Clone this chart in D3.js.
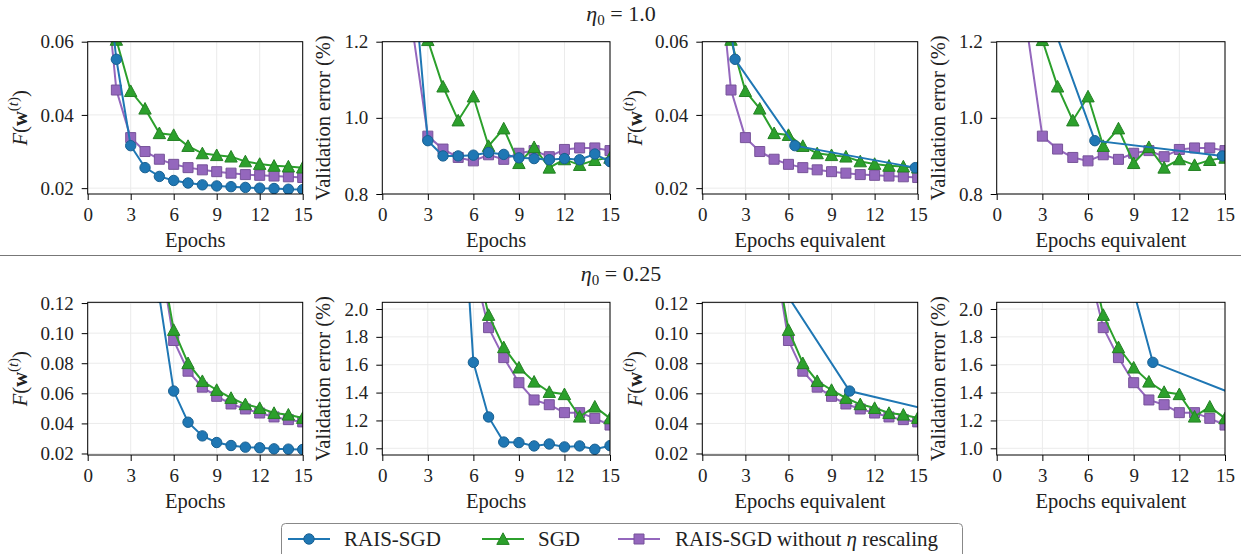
<!DOCTYPE html>
<html>
<head>
<meta charset="utf-8">
<script src="https://cdn.jsdelivr.net/npm/d3@7"></script>
<style>
  body { margin: 0; background: #fff; }
  text { font-family: "Liberation Serif", "DejaVu Serif", serif; fill: #222; }
</style>
</head>
<body>
<svg id="chart" width="1241" height="554"></svg>
<script>
// ---- data ----
// eta0 = 1.0
var epochsTop = [1, 2, 3, 4, 5, 6, 7, 8, 9, 10, 11, 12, 13, 14, 15];
var fTopRais   = [0.090, 0.0552, 0.0316, 0.0256, 0.0232, 0.0221, 0.0214, 0.0209, 0.0206, 0.0204, 0.0202, 0.0200, 0.0199, 0.0197, 0.0196];
var fTopSgd    = [0.100, 0.0605, 0.0465, 0.0417, 0.0350, 0.0345, 0.0315, 0.0295, 0.0290, 0.0286, 0.0273, 0.0266, 0.0261, 0.0259, 0.0256];
var fTopNoResc = [0.087, 0.0468, 0.0338, 0.0300, 0.0279, 0.0265, 0.0256, 0.0250, 0.0245, 0.0241, 0.0237, 0.0235, 0.0233, 0.0231, 0.0229];
var vTopRais   = [2.00, 1.40, 0.940, 0.900, 0.900, 0.902, 0.909, 0.904, 0.895, 0.893, 0.890, 0.893, 0.890, 0.905, 0.885];
var vTopSgd    = [2.00, 1.50, 1.204, 1.082, 0.993, 1.056, 0.926, 0.972, 0.881, 0.923, 0.869, 0.891, 0.876, 0.889, 0.895];
var vTopNoResc = [1.80, 1.23, 0.952, 0.918, 0.896, 0.887, 0.903, 0.891, 0.907, 0.914, 0.898, 0.917, 0.921, 0.921, 0.914];
var eqTopRais  = [1.0, 2.28, 6.45, 14.83];   // epochs equivalent of RAIS-SGD

// eta0 = 0.25
var epochsBot = [5, 6, 7, 8, 9, 10, 11, 12, 13, 14, 15];
var fBotRais   = [0.124, 0.0615, 0.0408, 0.0317, 0.0273, 0.0253, 0.0242, 0.0238, 0.0231, 0.0229, 0.0227];
var fBotSgd    = [0.156, 0.1021, 0.0800, 0.0681, 0.0622, 0.0569, 0.0527, 0.0502, 0.0469, 0.0458, 0.0436];
var fBotNoResc = [0.154, 0.0951, 0.0747, 0.0641, 0.0580, 0.0529, 0.0496, 0.0469, 0.0443, 0.0425, 0.0410];
var vBotRais   = [3.34, 1.617, 1.225, 1.045, 1.041, 1.017, 1.031, 1.010, 1.017, 0.993, 1.019];
var vBotSgd    = [3.20, 2.44, 1.957, 1.725, 1.579, 1.478, 1.404, 1.388, 1.227, 1.299, 1.215];
var vBotNoResc = [3.00, 2.31, 1.866, 1.651, 1.471, 1.347, 1.313, 1.256, 1.256, 1.215, 1.167];
var eqBotRais  = [6.0, 10.26, 19.4];

var xTicks = [0, 3, 6, 9, 12, 15];
var fTicksTop = [0.02, 0.04, 0.06];
var vTicksTop = [0.8, 1.0, 1.2];
var fTicksBot = [0.02, 0.04, 0.06, 0.08, 0.10, 0.12];
var vTicksBot = [1.0, 1.2, 1.4, 1.6, 1.8, 2.0];

var legendNames = ["RAIS-SGD", "SGD", "RAIS-SGD without \u03b7 rescaling"];

// ---- styling ----
var blue = "#1f77b4", green = "#2ca02c", purple = "#9467bd";
var fsTick = 19, fsLab = 20.5;

var svg = d3.select("#chart");

var cols = [[87.7, 302.7], [382.3, 610], [702.3, 917.7], [996.7, 1225]];
var rows = [[41.7, 194], [302.3, 455]];
var ylabX = [20, 323, 635, 938];

function zip(xs, ys) {
  var n = Math.min(xs.length, ys.length), out = [];
  for (var i = 0; i < n; i++) out.push([xs[i], ys[i]]);
  return out;
}

var panels = [
  {r: 0, c: 0, kind: "F", dom: [0.0184, 0.06], ticks: fTicksTop, xlab: "Epochs",
   s: [[epochsTop, fTopNoResc, purple, "sq"], [epochsTop, fTopSgd, green, "tri"], [epochsTop, fTopRais, blue, "ci"]]},
  {r: 0, c: 1, kind: "V", dom: [0.8, 1.2], ticks: vTicksTop, xlab: "Epochs",
   s: [[epochsTop, vTopNoResc, purple, "sq"], [epochsTop, vTopSgd, green, "tri"], [epochsTop, vTopRais, blue, "ci"]]},
  {r: 0, c: 2, kind: "F", dom: [0.0184, 0.06], ticks: fTicksTop, xlab: "Epochs equivalent",
   s: [[epochsTop, fTopNoResc, purple, "sq"], [epochsTop, fTopSgd, green, "tri"], [eqTopRais, fTopRais, blue, "ci"]]},
  {r: 0, c: 3, kind: "V", dom: [0.8, 1.2], ticks: vTicksTop, xlab: "Epochs equivalent",
   s: [[epochsTop, vTopNoResc, purple, "sq"], [epochsTop, vTopSgd, green, "tri"], [eqTopRais, vTopRais, blue, "ci"]]},
  {r: 1, c: 0, kind: "F", dom: [0.019, 0.1205], ticks: fTicksBot, xlab: "Epochs",
   s: [[epochsBot, fBotNoResc, purple, "sq"], [epochsBot, fBotSgd, green, "tri"], [epochsBot, fBotRais, blue, "ci"]]},
  {r: 1, c: 1, kind: "V", dom: [0.952, 2.048], ticks: vTicksBot, xlab: "Epochs",
   s: [[epochsBot, vBotNoResc, purple, "sq"], [epochsBot, vBotSgd, green, "tri"], [epochsBot, vBotRais, blue, "ci"]]},
  {r: 1, c: 2, kind: "F", dom: [0.019, 0.1205], ticks: fTicksBot, xlab: "Epochs equivalent",
   s: [[epochsBot, fBotNoResc, purple, "sq"], [epochsBot, fBotSgd, green, "tri"], [eqBotRais, fBotRais, blue, "ci"]]},
  {r: 1, c: 3, kind: "V", dom: [0.952, 2.048], ticks: vTicksBot, xlab: "Epochs equivalent",
   s: [[epochsBot, vBotNoResc, purple, "sq"], [epochsBot, vBotSgd, green, "tri"], [eqBotRais, vBotRais, blue, "ci"]]}
];

function markerPath(type) {
  if (type == "ci") return d3.symbol().type(d3.symbolCircle).size(Math.PI * 27)();
  if (type == "sq") return "M-5,-5H5V5H-5Z";
  return "M0,-6.2L6.2,5.4L-6.2,5.4Z";
}

function drawMarker(g, type, color, x, y) {
  g.append("path")
    .attr("d", markerPath(type))
    .attr("transform", "translate(" + x + "," + y + ")")
    .attr("fill", color)
    .attr("stroke", d3.color(color).darker(0.6))
    .attr("stroke-width", 1);
}

// y label with math parts
function yLabel(g, kind, x, y) {
  var t = g.append("text")
    .attr("transform", "translate(" + x + "," + y + ") rotate(-90)")
    .attr("text-anchor", "middle")
    .attr("dominant-baseline", "central")
    .style("font-size", fsLab + "px");
  if (kind == "V") {
    t.text("Validation error (%)");
  } else {
    t.append("tspan").style("font-style", "italic").text("F");
    t.append("tspan").text("(");
    t.append("tspan").style("font-weight", "bold").text("w");
    t.append("tspan").attr("dy", -7).style("font-size", "15px").text("(");
    t.append("tspan").style("font-size", "15px").style("font-style", "italic").text("t");
    t.append("tspan").style("font-size", "15px").text(")");
    t.append("tspan").attr("dy", 7).text(")");
  }
}

panels.forEach(function(p, i) {
  var x0 = cols[p.c][0], x1 = cols[p.c][1];
  var y0 = rows[p.r][0], y1 = rows[p.r][1];
  var x = d3.scaleLinear().domain([0, 15]).range([x0, x1]);
  var y = d3.scaleLinear().domain(p.dom).range([y1, y0]);
  var g = svg.append("g");

  // grid
  g.selectAll(".gx").data(xTicks).enter().append("line")
    .attr("x1", d => x(d)).attr("x2", d => x(d)).attr("y1", y0).attr("y2", y1)
    .attr("stroke", "#ebebeb").attr("stroke-width", 1);
  g.selectAll(".gy").data(p.ticks).enter().append("line")
    .attr("y1", d => y(d)).attr("y2", d => y(d)).attr("x1", x0).attr("x2", x1)
    .attr("stroke", "#ebebeb").attr("stroke-width", 1);

  // clip
  var cid = "clip" + i;
  svg.append("clipPath").attr("id", cid).append("rect")
    .attr("x", x0).attr("y", y0).attr("width", x1 - x0).attr("height", y1 - y0);
  var plot = g.append("g").attr("clip-path", "url(#" + cid + ")");

  var line = d3.line().x(d => x(d[0])).y(d => y(d[1]));
  p.s.forEach(function(s) {
    var pts = zip(s[0], s[1]);
    plot.append("path").datum(pts).attr("d", line)
      .attr("fill", "none").attr("stroke", s[2]).attr("stroke-width", 2);
    pts.forEach(function(d) {
      drawMarker(plot, s[3], s[2], x(d[0]), y(d[1]));
    });
  });

  // axes
  var ax = g.append("g").attr("transform", "translate(0," + y1 + ")")
    .call(d3.axisBottom(x).tickValues(xTicks).tickFormat(d3.format("d")).tickSize(6).tickPadding(8));
  var ay = g.append("g").attr("transform", "translate(" + x0 + ",0)")
    .call(d3.axisLeft(y).tickValues(p.ticks).tickFormat(d3.format(p.kind == "F" ? ".2f" : ".1f")).tickSize(6).tickPadding(8));
  [ax, ay].forEach(function(a) {
    a.select(".domain").remove();
    a.attr("font-family", null).attr("font-size", null);
    a.selectAll("line").attr("stroke", "#000").attr("stroke-width", 1);
    a.selectAll("text").style("font-size", fsTick + "px").attr("fill", "#222");
  });

  g.append("rect").attr("x", x0).attr("y", y0).attr("width", x1 - x0).attr("height", y1 - y0)
    .attr("fill", "none").attr("stroke", "#000").attr("stroke-width", 1);

  g.append("text").attr("x", (x0 + x1) / 2).attr("y", y1 + 46)
    .attr("text-anchor", "middle").attr("dominant-baseline", "central")
    .style("font-size", fsLab + "px").text(p.xlab);

  yLabel(g, p.kind, ylabX[p.c], (y0 + y1) / 2);
});

// row titles
function rowTitle(val, yc) {
  var t = svg.append("text").attr("x", 621).attr("y", yc)
    .attr("text-anchor", "middle").style("font-size", "22px");
  t.append("tspan").style("font-style", "italic").text("\u03b7");
  t.append("tspan").attr("dy", 4).style("font-size", "15px").text("0");
  t.append("tspan").attr("dy", -4).text(" = " + val);
}
rowTitle("1.0", 21);
rowTitle("0.25", 281);

svg.append("line").attr("x1", 0).attr("x2", 1241).attr("y1", 255.5).attr("y2", 255.5)
  .attr("stroke", "#777").attr("stroke-width", 1);

// legend
var lg = svg.append("g");
lg.append("rect").attr("x", 281.5).attr("y", 523.5).attr("width", 681).attr("height", 40)
  .attr("rx", 4).attr("fill", "#fff").attr("stroke", "#888").attr("stroke-width", 1);
var legendItems = [
  {x: 288, name: legendNames[0], color: blue, m: "ci", tx: 344},
  {x: 482, name: legendNames[1], color: green, m: "tri", tx: 538},
  {x: 618, name: legendNames[2], color: purple, m: "sq", tx: 675}
];
legendItems.forEach(function(it) {
  var yc = 539;
  lg.append("line").attr("x1", it.x).attr("x2", it.x + 42).attr("y1", yc).attr("y2", yc)
    .attr("stroke", it.color).attr("stroke-width", 2);
  drawMarker(lg, it.m, it.color, it.x + 21, yc);
  var t = lg.append("text").attr("x", it.tx).attr("y", yc).attr("dominant-baseline", "central")
    .style("font-size", "21px");
  var parts = it.name.split("\u03b7");
  t.append("tspan").text(parts[0]);
  if (parts.length > 1) {
    t.append("tspan").style("font-style", "italic").text("\u03b7");
    t.append("tspan").text(parts[1]);
  }
});
</script>
</body>
</html>
